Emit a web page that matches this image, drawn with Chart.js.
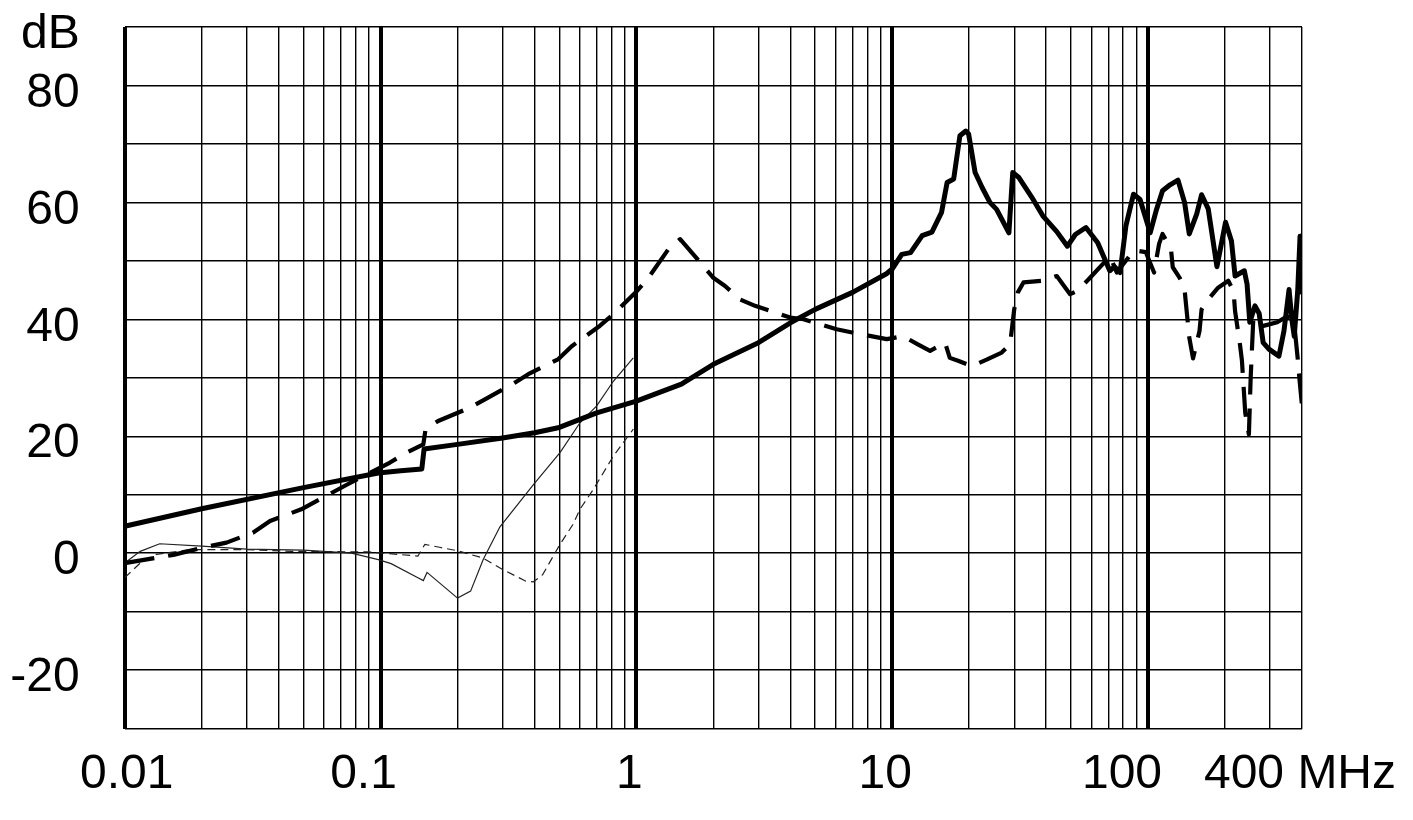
<!DOCTYPE html>
<html lang="en">
<head>
  <meta charset="UTF-8">
  <title>Attenuation vs frequency</title>
  <script src="https://cdn.jsdelivr.net/npm/chart.js"></script>
  <style>
    body {
      margin: 0;
      padding: 0;
      background: #fff;
    }
    canvas {
      display: block;
    }
  </style>
</head>
<body>
  <canvas id="dbChart" width="1413" height="820"></canvas>

  <script>
    // Thick solid curve (MHz / dB)
    const thickSolidFreq = [0.01, 0.02, 0.05, 0.098, 0.12, 0.145, 0.148, 0.2, 0.3, 0.4, 0.5, 0.7, 1.0, 1.5, 2.0, 3.0, 4.0, 5.0, 7.0, 9.5,
      10.0, 10.9, 11.8, 13.1, 14.3, 15.6, 16.4, 17.4, 18.4, 19.4, 19.9, 21.1, 22.5, 24.1, 25.6, 28.6, 29.6, 31.2, 35, 38.8,
      44, 48.4, 52, 57.2, 63.6, 70.9, 74, 77.8, 82, 87.8, 93.1, 102, 108, 114, 122, 131, 139, 145, 155, 162,
      172, 186, 201, 212, 219, 238, 244, 250, 262, 272, 282, 297, 325, 340, 356, 365, 373, 385, 393, 396, 400];
    const thickSolidDb = [4.6, 7.6, 11.2, 13.7, 14.1, 14.4, 17.8, 18.6, 19.7, 20.6, 21.5, 24.0, 26.0, 28.9, 32.3, 36.0, 39.4, 41.7, 44.6, 47.8,
      48.6, 51.1, 51.4, 54.3, 54.9, 58.3, 63.4, 64.0, 71.4, 72.2, 71.7, 65.1, 62.5, 60.0, 58.8, 54.8, 65.1, 64.3, 61, 57.7,
      55, 52.5, 54.5, 55.7, 53.1, 48.3, 49, 48.0, 56, 61.4, 60.5, 54.8, 58.8, 62.0, 63.0, 63.8, 60, 54.6, 58, 61.3,
      58.9, 49.0, 56.6, 53.4, 47.4, 48.3, 46, 39.5, 42.3, 41, 36, 34.9, 33.7, 38, 45.1, 40, 37.1, 45, 54.2, 47, 44.6];

    // Thick dashed curve
    const thickDashFreq = [0.01, 0.0133, 0.0155, 0.02, 0.025, 0.0317, 0.037, 0.049, 0.0738, 0.1089, 0.1266, 0.147, 0.15, 0.168, 0.224, 0.256, 0.336, 0.378, 0.496, 0.559,
      0.721, 0.801, 1.004, 1.114, 1.335, 1.483, 1.803, 2.0, 2.222, 2.543, 2.911, 3.99, 4.5, 6.07, 7.05, 9.52, 11.06, 12.6, 14.07, 16.1,
      16.8, 18.1, 20.5, 23.4, 26.8, 28.9, 30.0, 31, 32.6, 38.5, 44.0, 49.6, 52.7, 58.5, 71.1, 75.5, 88.1, 98.0, 105.6, 110.5,
      114, 123, 125, 133, 139, 141, 145, 150, 159, 162, 172, 188, 206, 216, 219, 229, 233, 240, 248, 252,
      258, 272, 290, 320, 350, 372, 385, 390, 400];
    const thickDashDb = [-1.7, -0.8, -0.3, 0.9, 1.8, 3.5, 5.5, 7.5, 11.7, 15.5, 17.2, 18.6, 21.2, 22.6, 24.9, 26.3, 29.2, 30.6, 33.2, 35.4,
      38.9, 40.6, 44.8, 47.1, 52.0, 53.7, 49.4, 47.1, 45.7, 43.4, 42.3, 40.3, 40.0, 38.3, 37.7, 36.6, 37.1, 35.7, 34.6, 36.0,
      33.4, 32.9, 32.0, 33.1, 34.3, 35.7, 41.7, 44.6, 46.3, 46.6, 47.4, 44.3, 44.8, 46.8, 50.8, 48.0, 51.8, 51.5, 48.0, 52.9,
      54.6, 52.0, 48.9, 47.1, 45.1, 42.3, 36.9, 33.3, 38.0, 41.7, 43.4, 45.4, 46.6, 44.8, 41.4, 35.6, 32.9, 24, 20.3, 30,
      40, 38.7, 39, 39.5, 40.5, 39.7, 33.2, 30.3, 25.2];

    // Thin solid curve (up to 1 MHz)
    const thinSolidFreq = [0.01, 0.0115, 0.0137, 0.02, 0.03, 0.05, 0.077, 0.098, 0.11, 0.14, 0.147, 0.152, 0.2, 0.225, 0.252, 0.293, 0.396, 0.503, 0.602, 0.70, 0.813, 0.973];
    const thinSolidDb = [-1.7, 0.3, 1.6, 1.2, 0.7, 0.5, 0.0, -1.1, -1.8, -4.2, -4.7, -3.3, -7.7, -6.5, -1.1, 4.5, 11.7, 17.2, 22.3, 25.2, 29.4, 33.4];

    // Thin dashed curve (up to 1 MHz)
    const thinDashFreq = [0.01, 0.0115, 0.0133, 0.018, 0.03, 0.045, 0.09, 0.14, 0.149, 0.17, 0.2, 0.25, 0.3, 0.37, 0.396, 0.43, 0.503, 0.565, 0.602, 0.679, 0.813, 0.973];
    const thinDashDb = [-4.2, -1.7, -0.2, 0.6, 0.6, 0.3, 0.2, -0.5, 1.5, 1.0, 0.4, -0.8, -2.8, -4.8, -4.9, -3.7, 1.5, 4.9, 7.5, 10.9, 16.6, 21.2];

    // Axis ticks and labels
    const xDecades = [0.01, 0.1, 1, 10, 100];
    const xLabelValues = [0.01, 0.1, 1, 10, 100, 400];
    const xLabelTexts = ['0.01', '0.1', '1', '10', '100', '400 MHz'];
    const yLabels = { 90: 'dB', 80: '80', 60: '60', 40: '40', 20: '20', 0: '0', '-20': '-20' };

    // small horizontal nudges of the x labels, as in the original
    const xLabelNudge = [2, -17, -7, -7, -26, -2];
    const FONT = '"Liberation Sans", Arial, sans-serif';

    const xGridValues = [];
    xDecades.forEach(d => {
      for (let m = 1; m <= 9; m++) {
        const v = +(d * m).toPrecision(6);
        if (v <= 400) xGridValues.push(v);
      }
    });

    function pairs(fs, ys) {
      return fs.map((f, i) => ({ x: f, y: ys[i] }));
    }

    function isDecade(v) {
      const l = Math.log10(v);
      return Math.abs(l - Math.round(l)) < 1e-6;
    }

    const xLabelPlugin = {
      id: 'xLabels',
      afterDraw(chart) {
        const ctx = chart.ctx;
        const sx = chart.scales.x;
        ctx.save();
        ctx.font = '48px ' + FONT;
        ctx.fillStyle = '#000';
        ctx.textAlign = 'center';
        ctx.textBaseline = 'alphabetic';
        xLabelValues.forEach((v, i) => {
          ctx.fillText(xLabelTexts[i], sx.getPixelForValue(v) + xLabelNudge[i], 788);
        });
        ctx.restore();
      }
    };

    new Chart(document.getElementById('dbChart'), {
      type: 'line',
      data: {
        datasets: [
          {
            data: pairs(thickSolidFreq, thickSolidDb),
            borderColor: '#000',
            borderWidth: 5,
            borderJoinStyle: 'round',
            borderCapStyle: 'round'
          },
          {
            data: pairs(thickDashFreq, thickDashDb),
            borderColor: '#000',
            borderWidth: 4.2,
            borderDash: [30, 14],
            borderJoinStyle: 'round'
          },
          {
            data: pairs(thinSolidFreq, thinSolidDb),
            borderColor: '#222',
            borderWidth: 1.2
          },
          {
            data: pairs(thinDashFreq, thinDashDb),
            borderColor: '#222',
            borderWidth: 1.2,
            borderDash: [8, 5]
          }
        ]
      },
      options: {
        responsive: false,
        animation: false,
        events: [],
        elements: {
          point: { radius: 0 },
          line: { tension: 0, fill: false }
        },
        layout: {
          padding: { top: 27, right: 111, left: 0, bottom: 0 }
        },
        plugins: {
          legend: { display: false },
          tooltip: { enabled: false }
        },
        scales: {
          x: {
            type: 'logarithmic',
            min: 0.01,
            max: 400,
            afterBuildTicks: scale => {
              scale.ticks = xGridValues.map(v => ({ value: v }));
            },
            afterFit: scale => {
              scale.height = 91.5;
              scale.paddingLeft = 0;
              scale.paddingRight = 0;
            },
            ticks: { display: false },
            border: { display: false },
            grid: {
              color: '#000',
              drawTicks: false,
              lineWidth: ctx => (ctx.tick && isDecade(ctx.tick.value) ? 4 : 1.4)
            }
          },
          y: {
            type: 'linear',
            min: -30,
            max: 90,
            afterFit: scale => {
              scale.width = 124.7;
              scale.paddingTop = 0;
              scale.paddingBottom = 0;
            },
            ticks: {
              stepSize: 10,
              autoSkip: false,
              padding: 45,
              labelOffset: 8,
              color: '#000',
              font: { family: FONT, size: 48 },
              callback: v => (yLabels[v] !== undefined ? yLabels[v] : '')
            },
            border: { display: false },
            grid: {
              color: '#000',
              drawTicks: false,
              lineWidth: 1.4
            }
          }
        }
      },
      plugins: [xLabelPlugin]
    });
  </script>
</body>
</html>
